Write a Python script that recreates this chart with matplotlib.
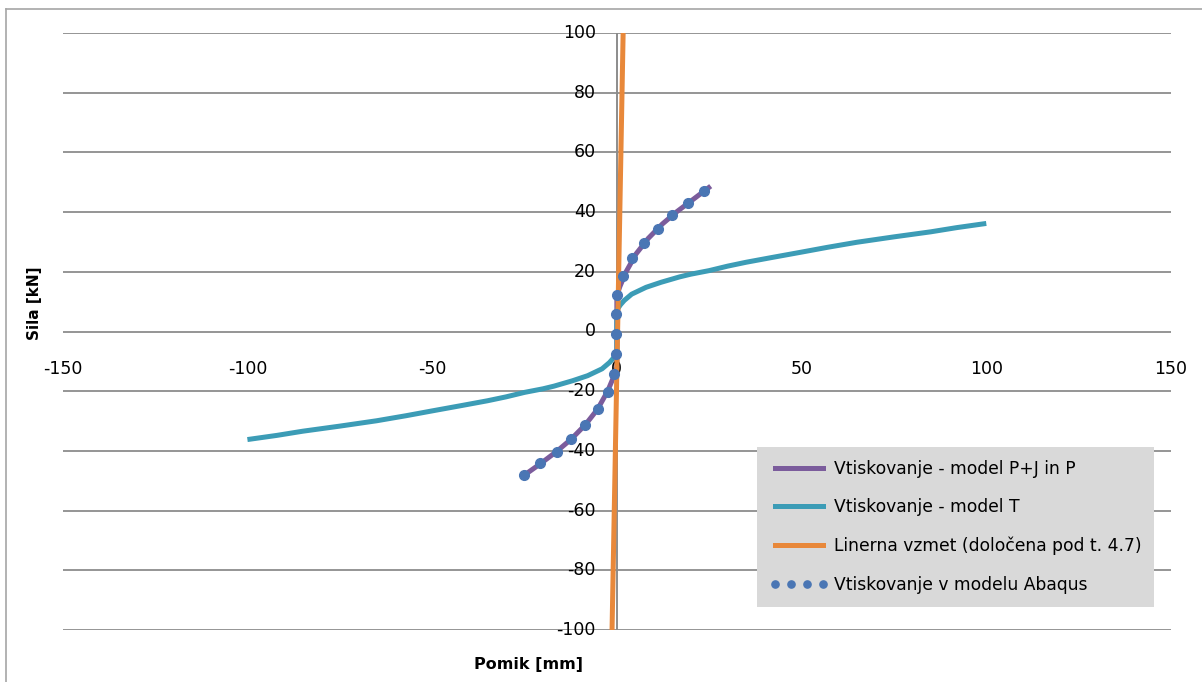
import matplotlib
matplotlib.use("Agg")
import matplotlib.pyplot as plt
from matplotlib.lines import Line2D

# Force-displacement data (Pomik [mm], Sila [kN])
pj_x = [-25.6, -20.7, -16.3, -12.3, -8.5, -5.2, -2.5, -0.8, 0.0, 0.0, 0.8, 2.5, 5.2, 8.5, 12.3, 16.3, 20.7, 25.4]
pj_y = [-48.6, -44.3, -40.2, -36.0, -31.2, -26.0, -20.0, -15.0, -12.0, 12.0, 15.0, 20.0, 26.0, 31.2, 36.0, 40.2, 44.3, 48.7]

t_x = [-100, -92, -85, -75, -65, -57, -50, -42, -35, -30, -25, -20, -17, -12, -7.9, -4.0, -2.0, -1.0, -0.5, 0.0,
       0.0, 0.5, 1.0, 2.0, 4.0, 7.9, 12, 17, 20, 25, 30, 35, 42, 50, 57, 65, 75, 85, 92, 100]
t_y = [-36.2, -34.8, -33.4, -31.7, -29.9, -28.2, -26.6, -24.8, -23.2, -21.9, -20.4, -19.2, -18.3, -16.5, -14.8,
       -12.5, -10.4, -9.0, -8.1, -7.0,
       7.0, 8.1, 9.0, 10.4, 12.5, 14.8, 16.5, 18.3, 19.2, 20.4, 21.9, 23.2, 24.8, 26.6, 28.2, 29.9, 31.7,
       33.4, 34.8, 36.2]

spring_x = [-1.3, 1.7]
spring_y = [-100, 100]

abaqus_x = [-25.1, -20.7, -16.3, -12.3, -8.5, -5.2, -2.5, -0.7, -0.2, -0.2, -0.1, 0.1,
            1.7, 4.1, 7.3, 11.1, 15.0, 19.2, 23.6]
abaqus_y = [-48.1, -44.2, -40.3, -36.1, -31.3, -26.1, -20.2, -14.2, -7.4, -0.9, 5.8, 12.3,
            18.7, 24.5, 29.7, 34.4, 39.0, 43.0, 47.0]

x_ticks = [-150, -100, -50, 0, 50, 100, 150]
y_ticks = [-100, -80, -60, -40, -20, 0, 20, 40, 60, 80, 100]

labels = ["Vtiskovanje - model P+J in P",
          "Vtiskovanje - model T",
          "Linerna vzmet (določena pod t. 4.7)",
          "Vtiskovanje v modelu Abaqus"]

c_pj = "#7b5c9c"
c_t = "#3c9cb6"
c_spring = "#e8883a"
c_abaqus = "#4a76b4"
c_grid = "#8c8c8c"

W, H = 1202, 682
fig = plt.figure(figsize=(W / 100, H / 100), dpi=100)
plt.rcParams["font.family"] = ["DejaVu Sans"]

# chart frame (left and top edges)
fig.add_artist(Line2D([6 / W, 6 / W], [-0.1, 1 - 9 / H], transform=fig.transFigure,
                      color="#a6a6a6", lw=1.2))
fig.add_artist(Line2D([6 / W, 1.1], [1 - 9 / H, 1 - 9 / H], transform=fig.transFigure,
                      color="#a6a6a6", lw=1.2))

left, right, top, bottom = 62.7 / W, 1171 / W, 1 - 33 / H, 1 - 630 / H
ax = fig.add_axes([left, bottom, right - left, top - bottom])
ax.set_xlim(-150, 150)
ax.set_ylim(-100, 100)
ax.set_facecolor("none")

for yv in y_ticks:
    ax.axhline(yv, color=c_grid, lw=1.3, zorder=1)
ax.axvline(0, color=c_grid, lw=1.4, zorder=1)

for s in ax.spines.values():
    s.set_visible(False)

ax.plot(pj_x, pj_y, color=c_pj, lw=3.6, zorder=3, solid_capstyle="butt")
ax.plot(t_x, t_y, color=c_t, lw=3.6, zorder=4, solid_capstyle="butt", solid_joinstyle="round")
ax.plot(spring_x, spring_y, color=c_spring, lw=3.6, zorder=5, solid_capstyle="butt")
ax.plot(abaqus_x, abaqus_y, linestyle="none", marker="o", markersize=7,
        color=c_abaqus, zorder=6)

ax.set_xticks([])
ax.set_yticks([])
for xv in x_ticks:
    ax.annotate(str(xv), xy=(xv, 0), xytext=(0, -37), textcoords="offset pixels",
                ha="center", va="center", fontsize=12.5, color="black")
for yv in y_ticks:
    ax.annotate(str(yv), xy=(0, yv), xytext=(-21, 0), textcoords="offset pixels",
                ha="right", va="center", fontsize=12.5, color="black")

fig.text(35 / W, 1 - 303 / H, "Sila [kN]", rotation=90, ha="center", va="center",
         fontsize=11, fontweight="bold")
fig.text(528 / W, 1 - 665 / H, "Pomik [mm]", ha="center", va="center",
         fontsize=11.5, fontweight="bold")

handles = [Line2D([], [], color=c_pj, lw=3.6),
           Line2D([], [], color=c_t, lw=3.6),
           Line2D([], [], color=c_spring, lw=3.6),
           Line2D([], [], linestyle="none", marker="o", markersize=5.2, color=c_abaqus)]
leg = ax.legend(handles, labels, loc="upper left",
                bbox_to_anchor=(757 / W, 1 - 447 / H), bbox_transform=fig.transFigure,
                fontsize=12.3, frameon=True, fancybox=False, facecolor="#d9d9d9",
                edgecolor="none", framealpha=1, borderpad=0.75, borderaxespad=0,
                handlelength=3.4, handletextpad=0.35, labelspacing=1.2, numpoints=4)
leg.set_zorder(10)

fig.savefig("out.png", dpi=100, facecolor="white")
